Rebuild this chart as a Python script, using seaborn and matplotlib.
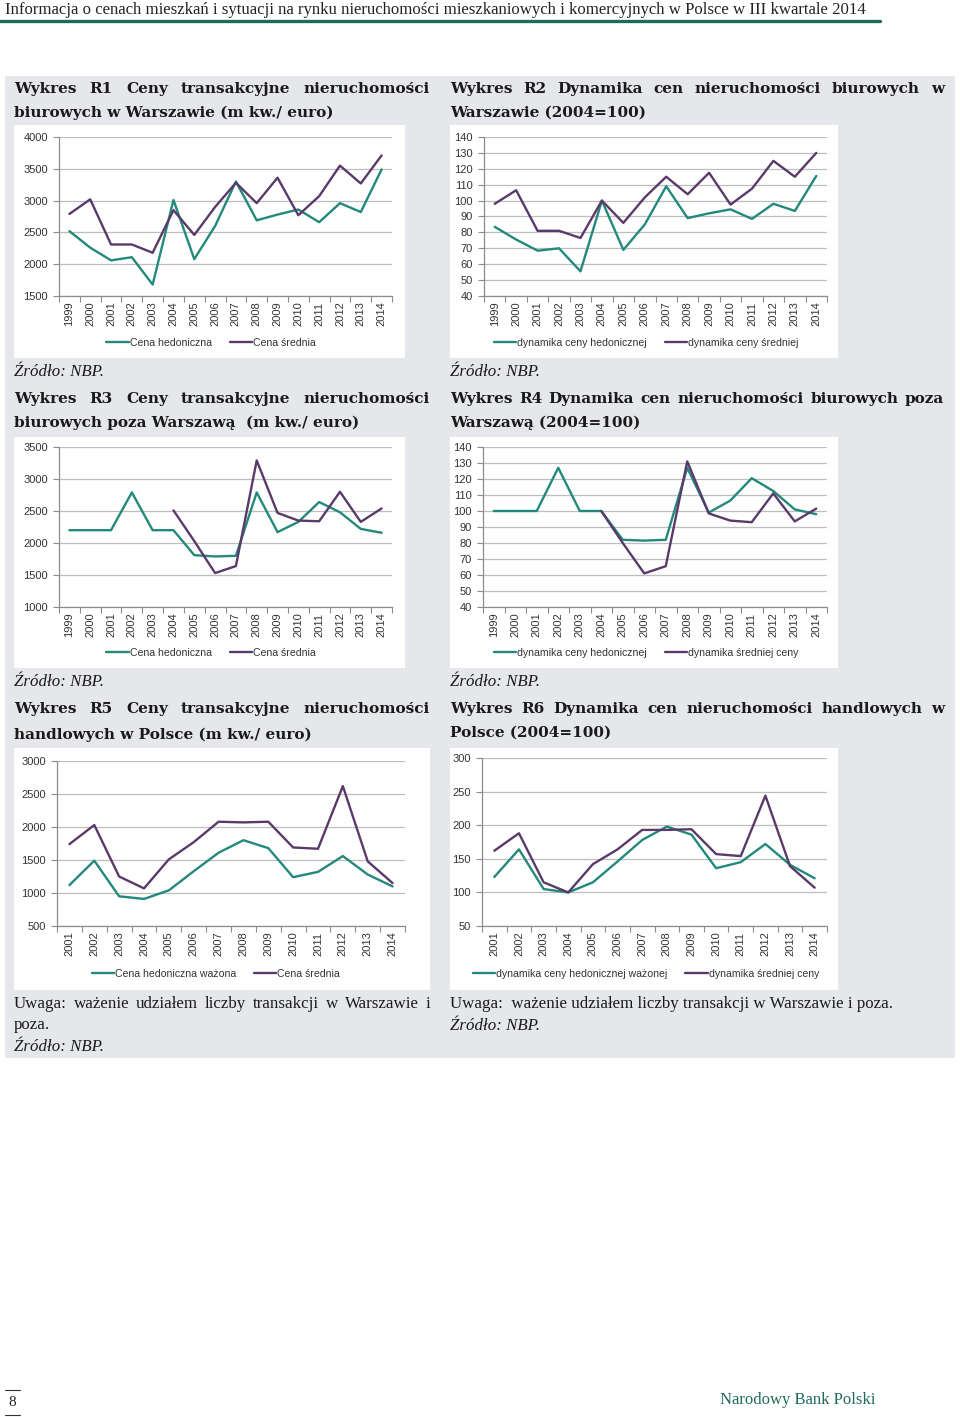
import numpy as np
import pandas as pd
import matplotlib
matplotlib.use('Agg')
import matplotlib.pyplot as plt
import seaborn as sns
from matplotlib.patches import Rectangle
from matplotlib.lines import Line2D

# ---- data ----
years_a = list(range(1999, 2015))
years_b = list(range(2001, 2015))

r1_hedon = [2520, 2260, 2060, 2110, 1680, 3010, 2080, 2600, 3300, 2690, 2780, 2860, 2660, 2960, 2820, 3490]
r1_avg = [2790, 3020, 2310, 2310, 2180, 2850, 2460, 2900, 3280, 2960, 3360, 2770, 3070, 3550, 3270, 3710]

r2_hedon = [83.5, 75.5, 68.5, 70, 55.5, 100, 69, 85, 109, 89, 92, 94.5, 88.5, 98, 93.5, 115.5]
r2_avg = [98, 106.5, 81, 81, 76.5, 100, 86, 102, 115, 104, 117.5, 97.5, 107.5, 125, 115, 130]

r3_hedon = [2200, 2200, 2200, 2790, 2200, 2200, 1810, 1790, 1800, 2790, 2170, 2330, 2640, 2480, 2220, 2160]
r3_avg = [np.nan, np.nan, np.nan, np.nan, np.nan, 2510, 2030, 1530, 1640, 3290, 2470, 2350, 2340, 2800, 2330, 2540]

r4_hedon = [100, 100, 100, 127, 100, 100, 82, 81.5, 82, 127, 99, 106.5, 120.5, 112.5, 101, 98]
r4_avg = [np.nan, np.nan, np.nan, np.nan, np.nan, 100, 80, 61, 65.5, 131, 98.5, 94, 93, 111, 93.5, 101.5]

r5_hedon = [1120, 1490, 950, 910, 1040, 1330, 1610, 1800, 1680, 1240, 1320, 1560, 1280, 1100]
r5_avg = [1740, 2030, 1250, 1070, 1510, 1770, 2080, 2070, 2080, 1690, 1670, 2620, 1480, 1150]

r6_hedon = [123, 164, 105, 100, 115, 146, 178, 198, 186, 136, 145, 172, 141, 121]
r6_avg = [162, 188, 115, 100, 142, 164, 193, 193, 194, 157, 154, 244, 139, 107]

names_r1 = ['Cena hedoniczna', 'Cena średnia']
names_r2 = ['dynamika ceny hedonicznej', 'dynamika ceny średniej']
names_r4 = ['dynamika ceny hedonicznej', 'dynamika średniej ceny']
names_r5 = ['Cena hedoniczna ważona', 'Cena średnia']
names_r6 = ['dynamika ceny hedonicznej ważonej', 'dynamika średniej ceny']

# ---- style ----
GREEN = '#23897A'
PURPLE = '#5A3A6A'
NBP = '#1E6B5C'
PANEL = '#E6E7EA'
GRID = '#BEBEBE'
AXIS = '#8C8C8C'

sns.set_style('white')
plt.rcParams['font.family'] = ['Liberation Sans', 'DejaVu Sans']

W, H = 960, 1417
fig = plt.figure(figsize=(W / 100, H / 100), dpi=100)
renderer = fig.canvas.get_renderer()
SERIF = ['Liberation Serif', 'DejaVu Serif']
BOOK = ['DejaVu Serif']


def fx(x):
    return x / W


def fy(y):
    return 1 - y / H


def box(x0, y0, x1, y1, color, z):
    fig.add_artist(Rectangle((fx(x0), fy(y1)), (x1 - x0) / W, (y1 - y0) / H,
                             transform=fig.transFigure, facecolor=color,
                             edgecolor='none', zorder=z))


def text(x, y, s, **kw):
    kw.setdefault('family', SERIF)
    kw.setdefault('va', 'center')
    return fig.text(fx(x), fy(y), s, **kw)


def justify(line, x0, x1, y, **kw):
    words = line.split(' ')
    items = [text(0, y, w, **kw) for w in words]
    widths = [t.get_window_extent(renderer).width for t in items]
    gap = (x1 - x0 - sum(widths)) / (len(words) - 1)
    x = x0
    for t, w in zip(items, widths):
        t.set_position((fx(x), fy(y)))
        x += w + gap


def chart(l, t, r, b, years, green, purple, names, ylim, ystep, leg_x, leg_y):
    ax = fig.add_axes([fx(l), fy(b), (r - l) / W, (b - t) / H])
    ax.set_facecolor('white')
    df = pd.DataFrame({
        'rok': years * 2,
        'wartosc': list(green) + list(purple),
        'seria': [names[0]] * len(years) + [names[1]] * len(years),
    })
    sns.lineplot(data=df, x='rok', y='wartosc', hue='seria', hue_order=names,
                 palette=[GREEN, PURPLE], linewidth=1.7, errorbar=None,
                 legend=False, ax=ax)
    ax.set_xlim(years[0] - 0.5, years[-1] + 0.5)
    ax.set_xticks(years)
    ax.set_xticklabels([str(y) for y in years], rotation=90)
    ax.set_xticks(np.arange(years[0] - 0.5, years[-1] + 1), minor=True)
    ax.tick_params(axis='x', which='major', length=0, pad=4, labelsize=8, labelcolor='#333333')
    ax.tick_params(axis='x', which='minor', length=4, color=AXIS, width=0.8, bottom=True)
    ax.set_ylim(*ylim)
    ax.set_yticks(np.arange(ylim[0], ylim[1] + 1, ystep))
    ax.tick_params(axis='y', length=4, color=AXIS, width=0.8, pad=4, labelsize=8,
                   labelcolor='#333333', left=True)
    ax.yaxis.grid(True, color=GRID, linewidth=0.9)
    ax.xaxis.grid(False)
    for side in ['top', 'right']:
        ax.spines[side].set_visible(False)
    for side in ['left', 'bottom']:
        ax.spines[side].set_color(AXIS)
        ax.spines[side].set_linewidth(0.9)
    ax.set_xlabel('')
    ax.set_ylabel('')
    handles = [Line2D([], [], color=GREEN, lw=1.7), Line2D([], [], color=PURPLE, lw=1.7)]
    fig.legend(handles, names, loc='center', bbox_to_anchor=(fx(leg_x), fy(leg_y)),
               ncol=2, frameon=False, fontsize=7.6, handlelength=2.1,
               handletextpad=0.1, columnspacing=1.7, labelcolor='#333333')
    return ax


# ---- page frame ----
text(5, 10, 'Informacja o cenach mieszkań i sytuacji na rynku nieruchomości mieszkaniowych '
     'i komercyjnych w Polsce w III kwartale 2014', fontsize=12.1, color='#222222')
fig.add_artist(Line2D([0, fx(880)], [fy(21), fy(21)], transform=fig.transFigure,
                      color=NBP, linewidth=2.4))

box(5, 76, 955, 1058, PANEL, -3)
for x0, y0, x1, y1 in [(14, 125, 405, 358), (450, 125, 838, 358),
                       (14, 437, 405, 668), (450, 437, 838, 668),
                       (14, 748, 430, 990), (450, 748, 838, 990)]:
    box(x0, y0, x1, y1, 'white', -2)

TITLE = dict(fontsize=11.0, fontweight='bold', color='#1a1a1a', family=BOOK)
BODY = dict(fontsize=12.2, color='#1a1a1a')
SRC = dict(fontsize=12.2, style='italic', color='#1a1a1a')

# titles
justify('Wykres R1 Ceny transakcyjne nieruchomości', 14, 430, 89, **TITLE)
text(14, 113, 'biurowych w Warszawie (m kw./ euro)', **TITLE)
justify('Wykres R2 Dynamika cen nieruchomości biurowych w', 450, 944, 89, **TITLE)
text(450, 113, 'Warszawie (2004=100)', **TITLE)
justify('Wykres R3 Ceny transakcyjne nieruchomości', 14, 430, 399, **TITLE)
text(14, 423, 'biurowych poza Warszawą  (m kw./ euro)', **TITLE)
justify('Wykres R4 Dynamika cen nieruchomości biurowych poza', 450, 944, 399, **TITLE)
text(450, 423, 'Warszawą (2004=100)', **TITLE)
justify('Wykres R5 Ceny transakcyjne nieruchomości', 14, 430, 709, **TITLE)
text(14, 735, 'handlowych w Polsce (m kw./ euro)', **TITLE)
justify('Wykres R6 Dynamika cen nieruchomości handlowych w', 450, 944, 709, **TITLE)
text(450, 733, 'Polsce (2004=100)', **TITLE)

# sources and notes
text(14, 372, 'Źródło: NBP.', **SRC)
text(450, 372, 'Źródło: NBP.', **SRC)
text(14, 682, 'Źródło: NBP.', **SRC)
text(450, 682, 'Źródło: NBP.', **SRC)
justify('Uwaga: ważenie udziałem liczby transakcji w Warszawie i', 14, 430, 1004, **BODY)
text(14, 1025, 'poza.', **BODY)
text(14, 1047, 'Źródło: NBP.', **SRC)
text(450, 1004, 'Uwaga:  ważenie udziałem liczby transakcji w Warszawie i poza.', **BODY)
text(450, 1026, 'Źródło: NBP.', **SRC)

# ---- charts ----
chart(59, 137, 392, 296, years_a, r1_hedon, r1_avg, names_r1, (1500, 4000), 500, 211, 343)
chart(484, 137, 827, 296, years_a, r2_hedon, r2_avg, names_r2, (40, 140), 10, 646, 343)
chart(59, 447, 392, 607, years_a, r3_hedon, r3_avg, names_r1, (1000, 3500), 500, 211, 653)
chart(483, 447, 827, 607, years_a, r4_hedon, r4_avg, names_r4, (40, 140), 10, 646, 653)
chart(57, 761, 405, 926, years_b, r5_hedon, r5_avg, names_r5, (500, 3000), 500, 216, 974)
chart(482, 758, 827, 926, years_b, r6_hedon, r6_avg, names_r6, (50, 300), 50, 646, 974)

# ---- footer ----
fig.add_artist(Line2D([fx(5), fx(20)], [fy(1390), fy(1390)], transform=fig.transFigure,
                      color='#333333', linewidth=0.8))
fig.add_artist(Line2D([fx(5), fx(20)], [fy(1415), fy(1415)], transform=fig.transFigure,
                      color='#333333', linewidth=0.8))
text(12, 1403, '8', fontsize=11, ha='center', color='#222222')
text(875, 1400, 'Narodowy Bank Polski', fontsize=12, ha='right', color=NBP)

fig.savefig('out.png', dpi=100, facecolor='white')
